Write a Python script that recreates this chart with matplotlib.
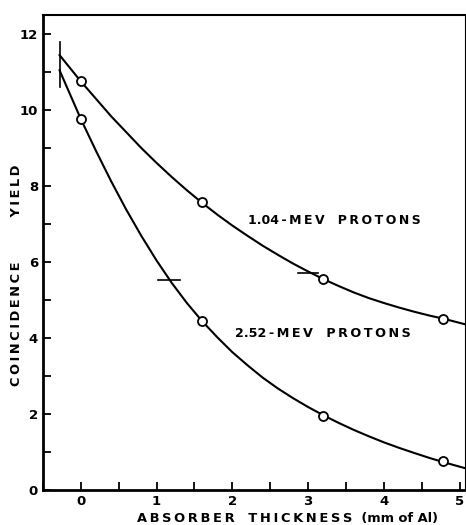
import matplotlib.pyplot as plt
from matplotlib.ticker import MultipleLocator

plt.rcParams['font.family'] = 'DejaVu Sans'

# measured points (open circles)
x_pts = [0, 1.6, 3.2, 4.78]
y_104 = [10.76, 7.58, 5.55, 4.5]
y_252 = [9.77, 4.45, 1.95, 0.76]

# smooth curves
x_curve = [-0.28, 0, 0.2, 0.4, 0.6, 0.8, 1.0, 1.2, 1.4, 1.6, 1.8, 2.0, 2.2, 2.4, 2.6,
           2.8, 3.0, 3.2, 3.4, 3.6, 3.8, 4.0, 4.2, 4.4, 4.6, 4.8, 5.07]
c_104 = [11.45, 10.76, 10.30, 9.84, 9.42, 9.00, 8.61, 8.24, 7.89, 7.56, 7.25, 6.96, 6.69,
         6.43, 6.19, 5.96, 5.75, 5.55, 5.37, 5.20, 5.05, 4.92, 4.80, 4.69, 4.59, 4.50, 4.36]
c_252 = [11.05, 9.77, 8.93, 8.13, 7.38, 6.685, 6.04, 5.45, 4.92, 4.445, 4.02, 3.625, 3.28,
         2.955, 2.67, 2.415, 2.18, 1.965, 1.765, 1.58, 1.41, 1.25, 1.105, 0.97, 0.84, 0.72, 0.57]

# short horizontal marks on the curves
mark_104 = ([2.87, 3.13], [5.7, 5.7])
mark_252 = ([1.02, 1.31], [5.53, 5.53])
# vertical bar at the start of the curves
start_bar = ([-0.28, -0.28], [10.6, 11.8])

TS = '\u2009'  # thin space for the wide lettering


def spaced(word):
    return TS.join(word)


fig = plt.figure(figsize=(4.66, 5.25), dpi=100)
ax = fig.add_axes([0.092, 0.067, 0.906, 0.904])

ax.plot(x_curve, c_104, 'k-', lw=1.5)
ax.plot(x_curve, c_252, 'k-', lw=1.5)
ax.plot(x_pts, y_104, 'o', ms=6.5, mfc='white', mec='k', mew=1.3)
ax.plot(x_pts, y_252, 'o', ms=6.5, mfc='white', mec='k', mew=1.3)
ax.plot(*mark_104, 'k-', lw=1.2)
ax.plot(*mark_252, 'k-', lw=1.2)
ax.plot(*start_bar, 'k-', lw=1.2)

ax.text(2.21, 7.1, '1.04' + TS + spaced('-MEV') + '   ' + spaced('PROTONS'),
        fontsize=9, fontweight='bold', va='center')
ax.text(2.04, 4.13, '2.52' + TS + spaced('-MEV') + '   ' + spaced('PROTONS'),
        fontsize=9.2, fontweight='bold', va='center')

ax.set_xlim(-0.5, 5.07)
ax.set_ylim(0, 12.5)
ax.xaxis.set_major_locator(MultipleLocator(1))
ax.xaxis.set_minor_locator(MultipleLocator(0.5))
ax.yaxis.set_major_locator(MultipleLocator(2))
ax.yaxis.set_minor_locator(MultipleLocator(1))
ax.tick_params(which='both', direction='in', length=6, width=1.3, top=False, right=False)
ax.tick_params(labelsize=9.5)
for lab in ax.get_xticklabels() + ax.get_yticklabels():
    lab.set_fontweight('bold')

ax.spines['left'].set_linewidth(2)
ax.spines['bottom'].set_linewidth(2)
ax.spines['top'].set_linewidth(1.5)
ax.spines['right'].set_linewidth(0.8)

ax.set_xlabel(spaced('ABSORBER') + '   ' + spaced('THICKNESS') + '  (mm of Al)',
              fontsize=9.4, fontweight='bold', va='top')
ax.xaxis.set_label_coords(0.579, -0.046)
ax.set_ylabel(spaced('COINCIDENCE') + ' ' * 10 + spaced('YIELD'), fontsize=9.3, fontweight='bold')
ax.yaxis.set_label_coords(-0.047, 0.453)

fig.savefig('out.png', dpi=100)
